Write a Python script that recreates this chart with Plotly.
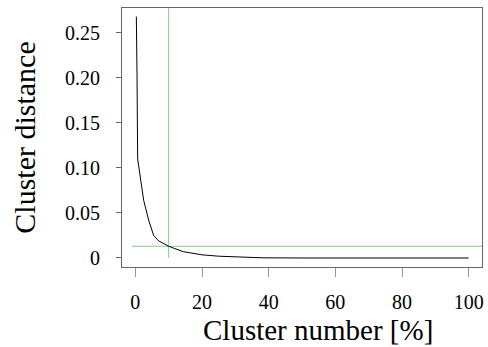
import plotly.graph_objects as go

# Data
cluster_pct = [0.3, 0.3, 0.5, 0.7, 1.3, 2.5, 4.0, 5.5, 7.0, 10.0, 14.4, 20.0, 25.0, 31.0, 38.0, 50.0, 70.0, 100.0]
cluster_dist = [0.268, 0.21, 0.205, 0.11, 0.094, 0.064, 0.042, 0.025, 0.019, 0.013, 0.007, 0.0035, 0.002, 0.0008, 0.0002, 0.0, 0.0, 0.0]

cut_x = [10, 10]
cut_x_y = [0, 0.2775]
cut_y_x = [-1, 104]
cut_y = [0.013, 0.013]

x_ticks = [0, 20, 40, 60, 80, 100]
y_ticks = [0, 0.05, 0.10, 0.15, 0.20, 0.25]
y_ticktext = ["0", "0.05", "0.10", "0.15", "0.20", "0.25"]

green = "#86cc86"
font = "Liberation Serif, Times New Roman, serif"

fig = go.Figure()
fig.add_trace(go.Scatter(x=cut_x, y=cut_x_y, mode="lines", line=dict(color=green, width=1), showlegend=False))
fig.add_trace(go.Scatter(x=cut_y_x, y=cut_y, mode="lines", line=dict(color=green, width=1), showlegend=False))
fig.add_trace(go.Scatter(x=cluster_pct, y=cluster_dist, mode="lines", line=dict(color="black", width=1), showlegend=False))

fig.update_layout(
    width=488, height=347,
    margin=dict(l=122, r=4, t=8, b=80),
    paper_bgcolor="white", plot_bgcolor="white",
    font=dict(family=font, color="black"),
    annotations=[dict(text="Cluster number [%]", xref="paper", yref="paper", x=0.544, y=-0.243,
                      xanchor="center", yanchor="middle", showarrow=False,
                      font=dict(size=29, family=font, color="black"))],
)
fig.update_xaxes(
    range=[-4, 104], tickvals=x_ticks, ticks="outside", ticklen=9, tickcolor="#999",
    showgrid=False, zeroline=False, showline=True, linecolor="#666", linewidth=1, mirror=True,
    tickfont=dict(size=20, family=font), ticklabelstandoff=8,
)
fig.update_yaxes(
    range=[-0.01, 0.2775], tickvals=y_ticks, ticktext=y_ticktext, ticks="outside", ticklen=5, tickcolor="#666",
    showgrid=False, zeroline=False, showline=True, linecolor="#666", linewidth=1, mirror=True,
    tickfont=dict(size=20, family=font), ticklabelstandoff=12,
    title=dict(text="Cluster distance", font=dict(size=30, family=font), standoff=20),
)

fig.write_html("out.html", config={"displayModeBar": False},
               post_script="document.body.style.margin='0';document.body.style.overflow='hidden';")
